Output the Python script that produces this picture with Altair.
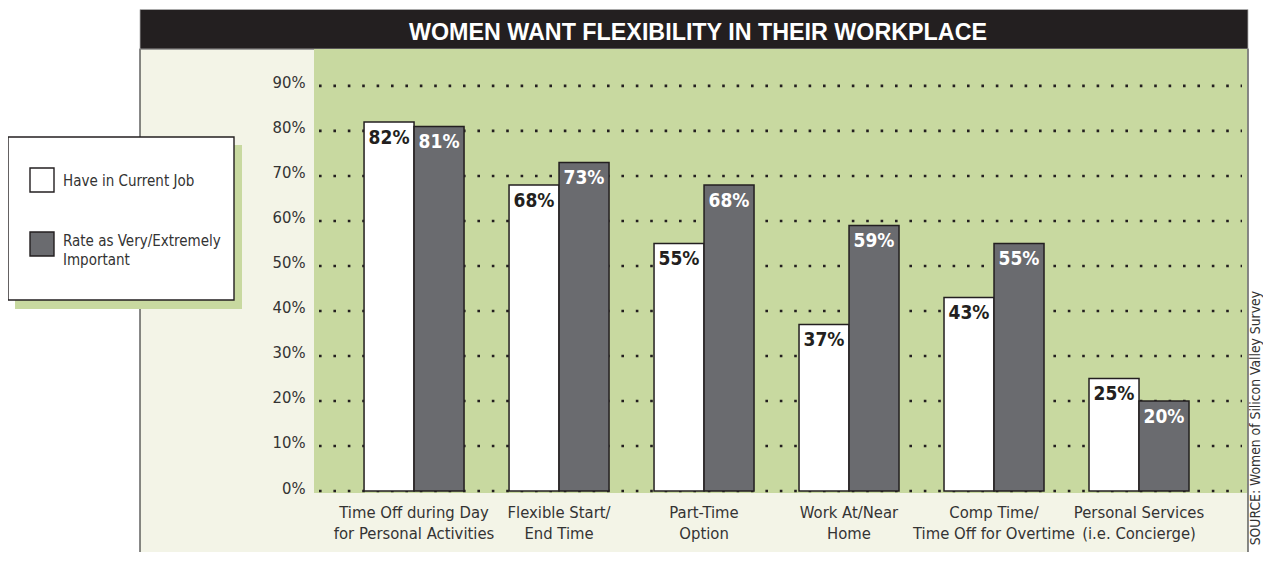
import altair as alt
import pandas as pd

# ---------------- data ----------------
categories = [
    "Time Off during Day\nfor Personal Activities",
    "Flexible Start/\nEnd Time",
    "Part-Time\nOption",
    "Work At/Near\nHome",
    "Comp Time/\nTime Off for Overtime",
    "Personal Services\n(i.e. Concierge)",
]
series = ["Have in Current Job", "Rate as Very/Extremely Important"]
legend_labels = ["Have in Current Job", "Rate as Very/Extremely\nImportant"]
have_in_current_job = [82, 68, 55, 37, 43, 25]
rate_as_important = [81, 73, 68, 59, 55, 20]
y_ticks = [0, 10, 20, 30, 40, 50, 60, 70, 80, 90]
title_text = "WOMEN WANT FLEXIBILITY IN THEIR WORKPLACE"
source_text = "SOURCE: Women of Silicon Valley Survey"

# ---------------- styles ----------------
FONT = "DejaVu Sans Condensed, Liberation Sans Narrow, sans-serif"
TITLE_FONT = "Liberation Sans, Arial, sans-serif"
DARK = "#231f20"
TXT = "#333333"
GREEN = "#c8d9a0"
BEIGE = "#f3f4e7"
GREY_BAR = "#6a6b6f"
bar_fills = ["#ffffff", GREY_BAR]
label_colors = [DARK, "#ffffff"]

W, H = 934, 442

rows = []
for c, a, b in zip(categories, have_in_current_job, rate_as_important):
    rows.append({"category": c, "series": series[0], "value": a})
    rows.append({"category": c, "series": series[1], "value": b})
df = pd.DataFrame(rows)
one = pd.DataFrame({"k": [0]})

yscale = alt.Scale(domain=[0, 98.2], nice=False, zero=True)
xscale = alt.Scale(paddingInner=0.3103, paddingOuter=0.376, align=0.459)
xoff_scale = alt.Scale(paddingInner=0, paddingOuter=0)
fill_scale = alt.Scale(domain=series, range=bar_fills)

x_axis = alt.Axis(
    title=None, labelAngle=0, labelExpr="split(datum.label, '\\n')",
    labelFont=FONT, labelFontSize=16.5, labelColor=TXT, labelPadding=13,
    labelLineHeight=21.5, labelBaseline="top", labelLimit=400,
    ticks=False, domain=False, grid=False, zindex=2,
)
y_axis = alt.Axis(
    title=None, values=y_ticks, labelExpr="datum.value + '%'",
    labelFont=FONT, labelFontSize=16.5, labelColor=TXT, labelPadding=9,
    labelBaseline="alphabetic", labelOffset=2,
    ticks=False, domain=False, grid=False, zindex=2,
)

# background panels
beige = alt.Chart(one).mark_rect(fill=BEIGE, stroke="#3a3a3a", strokeWidth=1.2).encode(
    x=alt.value(-174), x2=alt.value(W), y=alt.value(0), y2=alt.value(540)
)
title_bar = alt.Chart(one).mark_rect(fill=DARK, stroke="#b0b0b0", strokeWidth=0.8).encode(
    x=alt.value(-174), x2=alt.value(W), y=alt.value(-39.5), y2=alt.value(0)
)
green = alt.Chart(one).mark_rect(fill=GREEN).encode(
    x=alt.value(0), x2=alt.value(W - 1), y=alt.value(0), y2=alt.value(H + 2)
)
title = alt.Chart(pd.DataFrame({"t": [title_text]})).mark_text(
    font=TITLE_FONT, fontSize=23.3, fontWeight="bold", color="#ffffff",
    align="center", baseline="alphabetic"
).encode(text="t:N", x=alt.value(384), y=alt.value(-9.5))

# dotted grid lines (this layer also carries the y axis labels)
grid = alt.Chart(pd.DataFrame({"value": y_ticks})).mark_rule(
    color=DARK, strokeWidth=2.6, strokeDash=[2.6, 11.8]
).encode(
    y=alt.Y("value:Q", scale=yscale, axis=y_axis),
    x=alt.value(5), x2=alt.value(928),
)

bars = alt.Chart(df).mark_bar(stroke=DARK, strokeWidth=1.5).encode(
    x=alt.X("category:N", sort=categories, scale=xscale, axis=x_axis),
    xOffset=alt.XOffset("series:N", sort=series, scale=xoff_scale),
    y=alt.Y("value:Q", scale=yscale, axis=y_axis),
    fill=alt.Fill("series:N", scale=fill_scale, legend=None),
)

value_labels = alt.Chart(df).transform_calculate(
    label="datum.value + '%'"
).mark_text(
    font=FONT, fontSize=19, fontWeight="bold", baseline="alphabetic", dy=22
).encode(
    x=alt.X("category:N", sort=categories, scale=xscale, axis=x_axis),
    xOffset=alt.XOffset("series:N", sort=series, scale=xoff_scale),
    y=alt.Y("value:Q", scale=yscale, axis=y_axis),
    text="label:N",
    color=alt.Color("series:N", scale=alt.Scale(domain=series, range=label_colors), legend=None),
)

# legend (drawn by hand to match the boxed, shadowed key)
legend_layers = [
    alt.Chart(one).mark_rect(fill=GREEN).encode(
        x=alt.value(-299), x2=alt.value(-72), y=alt.value(96), y2=alt.value(260)
    ),
    alt.Chart(one).mark_rect(fill="#ffffff", stroke=DARK, strokeWidth=1.4).encode(
        x=alt.value(-306), x2=alt.value(-80), y=alt.value(88), y2=alt.value(251)
    ),
]
for i, s in enumerate(series):
    top = 119 + 64 * i
    legend_layers.append(
        alt.Chart(pd.DataFrame({"series": [s]})).mark_rect(stroke=DARK, strokeWidth=1.4).encode(
            x=alt.value(-284), x2=alt.value(-260), y=alt.value(top), y2=alt.value(top + 24),
            fill=alt.Fill("series:N", scale=fill_scale, legend=None),
        )
    )
    legend_layers.append(
        alt.Chart(pd.DataFrame({"t": [legend_labels[i]]})).mark_text(
            font=FONT, fontSize=15, color=TXT, align="left", baseline="alphabetic",
            lineBreak="\n", lineHeight=19,
        ).encode(text="t:N", x=alt.value(-251), y=alt.value(137 + 59.5 * i))
    )

source = alt.Chart(pd.DataFrame({"t": [source_text]})).mark_text(
    font=FONT, fontSize=13.8, color=TXT, angle=270, align="right", baseline="alphabetic"
).encode(text="t:N", x=alt.value(946), y=alt.value(242))

chart = alt.layer(
    beige, title_bar, green, title, grid, bars, value_labels, *legend_layers, source
).resolve_scale(color="independent", fill="shared").properties(
    width=W, height=H,
    autosize=alt.AutoSizeParams(type="none"),
    padding={"left": 306, "top": 41, "right": 15, "bottom": 61},
    background="#ffffff",
).configure_view(stroke=None)

chart.save("out.html", embed_options={"renderer": "svg", "actions": False})
